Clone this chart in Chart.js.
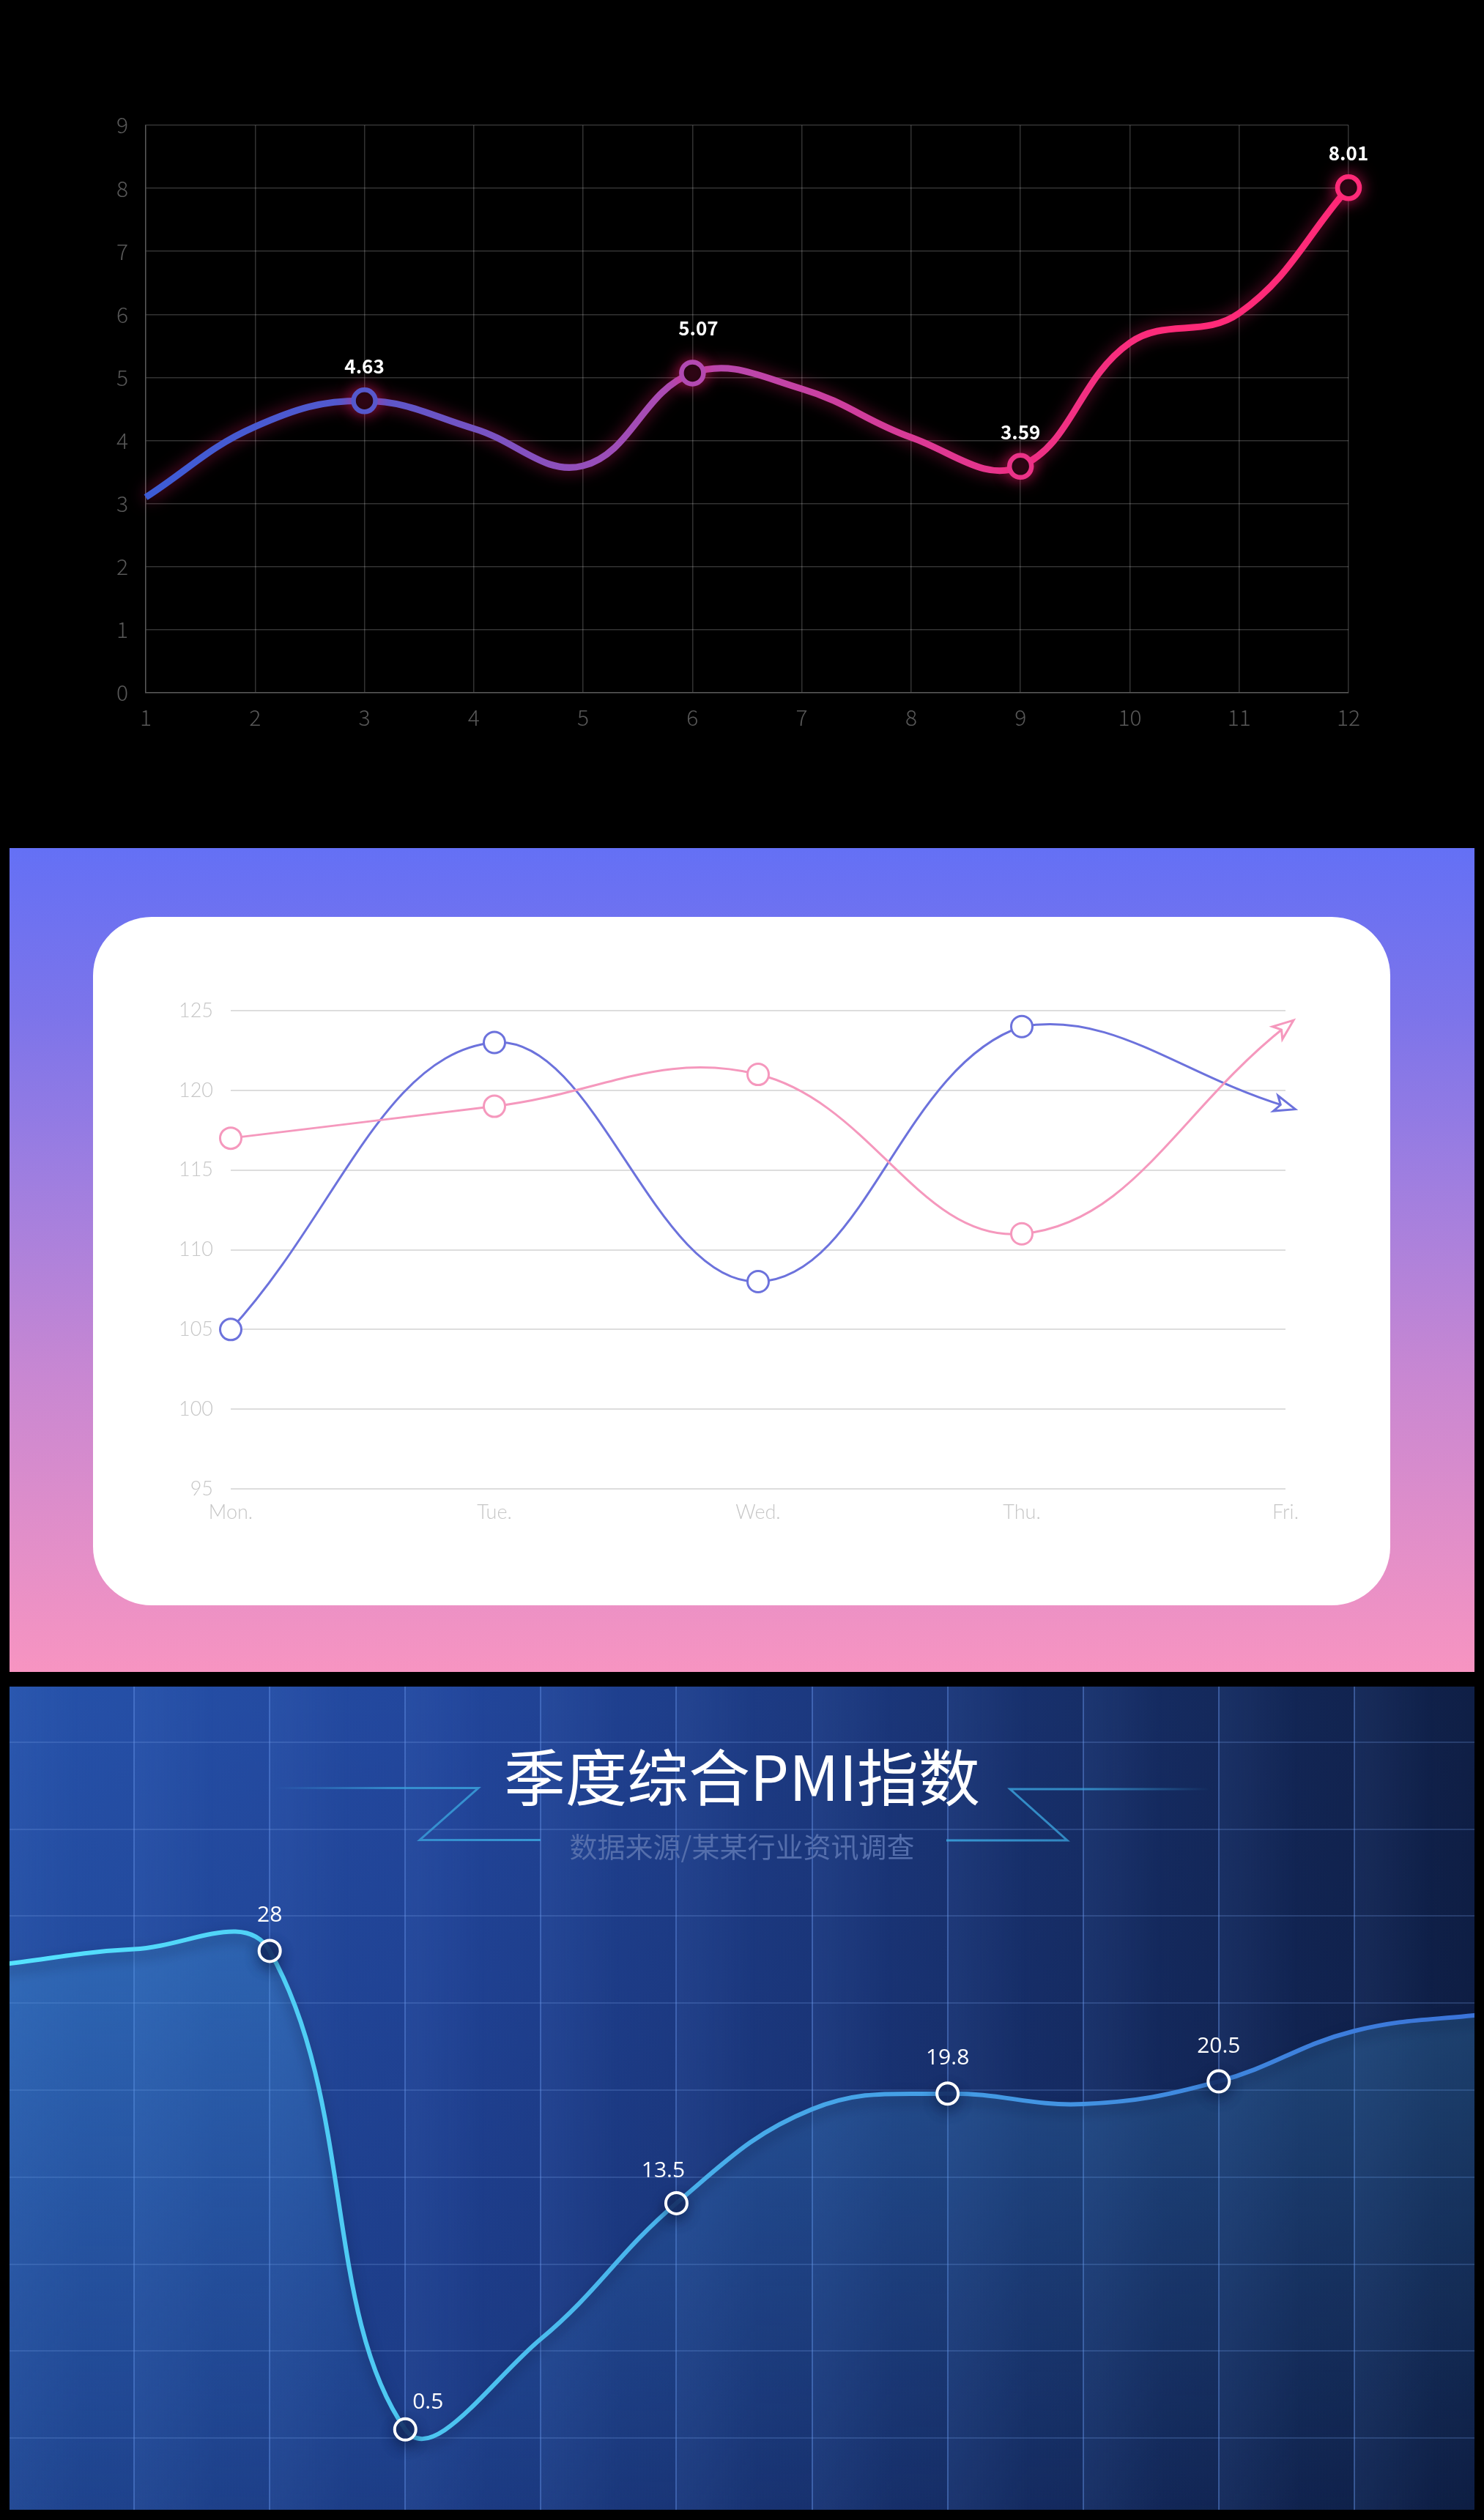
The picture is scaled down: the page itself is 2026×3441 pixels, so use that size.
<!DOCTYPE html>
<html>
<head>
<meta charset="utf-8">
<script src="https://cdn.jsdelivr.net/npm/chart.js@4.4.1/dist/chart.umd.min.js"></script>
<style>
html,body{margin:0;padding:0;background:#000;}
body{width:2026px;height:3441px;position:relative;overflow:hidden;font-family:"Noto Sans CJK SC","Noto Sans",sans-serif;}
.abs{position:absolute;}
#topWrap{left:0;top:0;width:2026px;height:1140px;}
#midPanel{left:13px;top:1158px;width:2000px;height:1125px;
  background:linear-gradient(180deg,#6470f5 0%,#7c74ea 20%,#9b7de1 38%,#c887d2 64%,#f794c1 100%);}
#midCard{left:127px;top:1252px;width:1771px;height:940px;background:#fff;border-radius:80px;}
#midWrap{left:127px;top:1252px;width:1771px;height:940px;}
#botPanel{left:13px;top:2303px;width:2000px;height:1124px;overflow:hidden;
  background:linear-gradient(180deg,rgba(0,0,0,0) 0%,rgba(4,12,40,0.22) 100%),
             linear-gradient(90deg,#2652aa 0%,#22469c 30%,#1b377c 58%,#14295c 82%,#0f1f46 100%);}
#botWrap{position:absolute;left:-15px;top:-43px;width:2036px;height:1188px;}
#ribbon{position:absolute;left:0;top:0;width:2000px;height:400px;pointer-events:none;}
#pmiTitle{position:absolute;left:1000px;top:119px;transform:translate(-50%,-50%);white-space:nowrap;
  color:#fff;font-size:84px;font-family:"Noto Sans CJK SC",sans-serif;font-weight:400;letter-spacing:0px;}
#pmiSub{position:absolute;left:1000px;top:216px;transform:translate(-50%,-50%);white-space:nowrap;
  color:rgb(84,110,172);font-size:38px;font-family:"Noto Sans CJK SC",sans-serif;}
</style>
</head>
<body>
<div id="topWrap" class="abs"><canvas id="topChart"></canvas></div>

<div id="midPanel" class="abs"></div>
<div id="midCard" class="abs"></div>
<div id="midWrap" class="abs"><canvas id="midChart"></canvas></div>

<div id="botPanel" class="abs">
  <div id="botWrap"><canvas id="botChart"></canvas></div>
  <svg id="ribbon" viewBox="0 0 2000 400">
    <defs>
      <linearGradient id="rl" x1="360" y1="0" x2="725" y2="0" gradientUnits="userSpaceOnUse">
        <stop offset="0" stop-color="#3aa2dc" stop-opacity="0"/>
        <stop offset="0.45" stop-color="#3aa2dc" stop-opacity="0.75"/>
        <stop offset="1" stop-color="#3aa2dc" stop-opacity="0.9"/>
      </linearGradient>
      <linearGradient id="rr" x1="1640" y1="0" x2="1279" y2="0" gradientUnits="userSpaceOnUse">
        <stop offset="0" stop-color="#3aa2dc" stop-opacity="0"/>
        <stop offset="0.45" stop-color="#3aa2dc" stop-opacity="0.75"/>
        <stop offset="1" stop-color="#3aa2dc" stop-opacity="0.9"/>
      </linearGradient>
    </defs>
    <polyline points="360,138.5 640,138.5 560,209.5 725,209.5" fill="none" stroke="url(#rl)" stroke-width="3"/>
    <polyline points="1640,140 1366,140 1444,210 1279,210" fill="none" stroke="url(#rr)" stroke-width="3"/>
  </svg>
  <div id="pmiTitle">季度综合PMI指数</div>
  <div id="pmiSub">数据来源/某某行业资讯调查</div>
</div>

<script>
// ---------- DATA ----------
// Chart 1 (dark glow line)
const monthLabels = ['1','2','3','4','5','6','7','8','9','10','11','12'];
const trendValues = [3.10, 4.22, 4.63, 4.19, 3.60, 5.07, 4.82, 4.05, 3.59, 5.55, 6.02, 8.01];
const trendMarked = [2, 5, 8, 11];

// Chart 2 (two curves in white card)
const weekDays = ['Mon.', 'Tue.', 'Wed.', 'Thu.', 'Fri.'];
const blueSeries = [105, 123, 108, 124, 119];
const pinkSeries = [117, 119, 121, 111, 124];
const weekTicks = [95, 100, 105, 110, 115, 120, 125];

// Chart 3 (PMI)
const pmiCategories = ['1','2','3','4','5','6','7','8','9','10','11','12'];
const pmiValues = [27.2, 28.1, 28, 0.5, 5.7, 13.5, 18.9, 19.8, 19.2, 20.5, 23.4, 24.4];
const pmiMarked = [2, 3, 5, 7, 9];

Chart.defaults.devicePixelRatio = 1;
Chart.defaults.animation = false;

// ---------- helpers ----------
function makeLabelPlugin(id, cfg) {
  return {
    id: id,
    afterDatasetsDraw(chart) {
      const meta = chart.getDatasetMeta(0);
      const data = chart.data.datasets[0].data;
      const c = chart.ctx;
      c.save();
      c.font = cfg.font;
      c.fillStyle = cfg.color;
      c.textAlign = 'center';
      c.textBaseline = 'middle';
      cfg.indices.forEach(i => {
        const pt = meta.data[i];
        const off = (cfg.offsets && cfg.offsets[i]) || [0, cfg.dy];
        c.fillText(String(data[i]), pt.x + off[0], pt.y + off[1]);
      });
      c.restore();
    }
  };
}

function fixedAxis(size, horizontal) {
  return function (scale) {
    if (horizontal) scale.height = size; else scale.width = size;
  };
}

// ---------- Chart 1 ----------
function trendGradient(chart) {
  const area = chart.chartArea;
  if (!area) return '#ff2a78';
  const g = chart.ctx.createLinearGradient(area.left, 0, area.right, 0);
  g.addColorStop(0, '#3c5cd6');
  g.addColorStop(0.18, '#5558cc');
  g.addColorStop(0.45, '#b24ab2');
  g.addColorStop(0.72, '#ea3389');
  g.addColorStop(0.86, '#ff2a78');
  g.addColorStop(1, '#ff2a78');
  return g;
}

const glowPlugin = {
  id: 'glow',
  beforeDatasetDraw(chart) {
    const c = chart.ctx;
    c.save();
    c.shadowColor = 'rgba(255,30,110,0.55)';
    c.shadowBlur = 22;
  },
  afterDatasetDraw(chart) {
    chart.ctx.restore();
  }
};

new Chart(document.getElementById('topChart'), {
  type: 'line',
  data: {
    labels: monthLabels,
    datasets: [{
      data: trendValues,
      borderColor: ctx => trendGradient(ctx.chart),
      borderWidth: 9,
      tension: 0.4,
      fill: false,
      clip: false,
      pointRadius: ctx => trendMarked.includes(ctx.dataIndex) ? 15 : 0,
      pointHoverRadius: 15,
      pointBorderWidth: 6.5,
      pointBackgroundColor: '#000',
      pointBorderColor: ctx => trendGradient(ctx.chart)
    }]
  },
  options: {
    responsive: true,
    maintainAspectRatio: false,
    layout: { autoPadding: false, padding: { left: 139, right: 185, top: 171, bottom: 134 } },
    plugins: { legend: { display: false }, tooltip: { enabled: false } },
    scales: {
      x: {
        type: 'category',
        offset: false,
        afterFit: fixedAxis(60, true),
        grid: { color: 'rgba(255,255,255,0.2)', lineWidth: 1.5, drawTicks: false },
        border: { color: 'rgba(255,255,255,0.2)', width: 1.5 },
        ticks: { color: '#585858', padding: 16, font: { size: 30, family: '"Noto Sans CJK SC", "Noto Sans", sans-serif', weight: 300 } }
      },
      y: {
        min: 0, max: 9,
        afterFit: fixedAxis(60, false),
        grid: { color: 'rgba(255,255,255,0.2)', lineWidth: 1.5, drawTicks: false },
        border: { color: 'rgba(255,255,255,0.2)', width: 1.5 },
        ticks: { stepSize: 1, color: '#585858', padding: 24, font: { size: 30, family: '"Noto Sans CJK SC", "Noto Sans", sans-serif', weight: 300 } }
      }
    }
  },
  plugins: [glowPlugin, makeLabelPlugin('trendLabels', {
    indices: trendMarked, dy: -47, color: '#ffffff',
    offsets: { 5: [8, -61] },
    font: 'bold 26px "Noto Sans CJK SC", "Noto Sans", sans-serif'
  })]
});

// ---------- Chart 2 ----------
const arrowPlugin = {
  id: 'endArrows',
  afterDatasetsDraw(chart) {
    const c = chart.ctx;
    chart.data.datasets.forEach((ds, di) => {
      const meta = chart.getDatasetMeta(di);
      const pts = meta.data;
      const p = pts[pts.length - 1];
      const q = pts[pts.length - 2];
      let dx = p.x - (p.cp1x !== undefined ? p.cp1x : q.x);
      let dy = p.y - (p.cp1y !== undefined ? p.cp1y : q.y);
      if (Math.abs(dx) + Math.abs(dy) < 0.01) { dx = p.x - q.x; dy = p.y - q.y; }
      const ang = Math.atan2(dy, dx);
      const L = 28, W = 11;
      c.save();
      c.translate(p.x, p.y);
      c.rotate(ang);
      c.beginPath();
      c.moveTo(L / 2, 0);
      c.lineTo(-L / 2, -W);
      c.lineTo(-L / 4, 0);
      c.lineTo(-L / 2, W);
      c.closePath();
      c.fillStyle = '#ffffff';
      c.fill();
      c.lineWidth = 3;
      c.lineJoin = 'miter';
      c.strokeStyle = ds.borderColor;
      c.stroke();
      c.restore();
    });
  }
};

function weekDataset(values, color) {
  return {
    data: values,
    borderColor: color,
    borderWidth: 3,
    tension: 0.4,
    fill: false,
    clip: false,
    pointRadius: ctx => ctx.dataIndex === values.length - 1 ? 0 : 14.5,
    pointHoverRadius: 14.5,
    pointBorderWidth: 3,
    pointBackgroundColor: '#ffffff',
    pointBorderColor: color
  };
}

new Chart(document.getElementById('midChart'), {
  type: 'line',
  data: {
    labels: weekDays,
    datasets: [weekDataset(pinkSeries, '#f598bd'), weekDataset(blueSeries, '#6c72dc')]
  },
  options: {
    responsive: true,
    maintainAspectRatio: false,
    layout: { autoPadding: false, padding: { left: 48, right: 143, top: 128, bottom: 99 } },
    plugins: { legend: { display: false }, tooltip: { enabled: false } },
    scales: {
      x: {
        type: 'category',
        offset: false,
        afterFit: fixedAxis(60, true),
        grid: { display: false, drawTicks: false },
        border: { display: false },
        ticks: { color: '#c6c6c6', padding: 16, font: { size: 27, family: 'Lato, "Open Sans", sans-serif', weight: 300 } }
      },
      y: {
        min: 95, max: 125,
        afterFit: fixedAxis(140, false),
        afterBuildTicks: s => { s.ticks = weekTicks.map(v => ({ value: v })); },
        grid: { color: '#dddddd', lineWidth: 2, drawTicks: false },
        border: { display: false },
        ticks: { color: '#c6c6c6', padding: 24, font: { size: 27, family: 'Lato, "Open Sans", sans-serif', weight: 300 } }
      }
    }
  },
  plugins: [arrowPlugin]
});

// ---------- Chart 3 ----------
const columnShade = {
  id: 'columnShade',
  beforeDatasetsDraw(chart) {
    const xs = chart.scales.x;
    const area = chart.chartArea;
    const c = chart.ctx;
    c.save();
    for (let i = 0; i < pmiCategories.length - 1; i++) {
      const x0 = xs.getPixelForValue(i);
      const x1 = xs.getPixelForValue(i + 1);
      const g = c.createLinearGradient(x0, 0, x1, 0);
      g.addColorStop(0, 'rgba(120,170,255,0.07)');
      g.addColorStop(0.6, 'rgba(120,170,255,0.0)');
      g.addColorStop(1, 'rgba(120,170,255,0.0)');
      c.fillStyle = g;
      c.fillRect(x0, area.top, x1 - x0, area.bottom - area.top);
    }
    c.restore();
  }
};

const pmiShadow = {
  id: 'pmiShadow',
  beforeDatasetDraw(chart) {
    const c = chart.ctx;
    c.save();
    c.shadowColor = 'rgba(5,15,50,0.45)';
    c.shadowBlur = 18;
    c.shadowOffsetY = 8;
  },
  afterDatasetDraw(chart) { chart.ctx.restore(); }
};

function pmiLineGradient(chart) {
  const area = chart.chartArea;
  if (!area) return '#4fd4f5';
  const g = chart.ctx.createLinearGradient(area.left, 0, area.right, 0);
  g.addColorStop(0, '#55e4ff');
  g.addColorStop(0.3, '#4cc4f0');
  g.addColorStop(0.55, '#46a6e8');
  g.addColorStop(1, '#3a72d8');
  return g;
}
function pmiFillGradient(chart) {
  const area = chart.chartArea;
  if (!area) return 'rgba(70,170,230,0.2)';
  const g = chart.ctx.createLinearGradient(0, area.top, 0, area.bottom);
  g.addColorStop(0, 'rgba(80,175,235,0.45)');
  g.addColorStop(0.35, 'rgba(70,160,225,0.30)');
  g.addColorStop(1, 'rgba(60,140,210,0.02)');
  return g;
}

new Chart(document.getElementById('botChart'), {
  type: 'line',
  data: {
    labels: pmiCategories,
    datasets: [{
      data: pmiValues,
      borderColor: ctx => pmiLineGradient(ctx.chart),
      backgroundColor: ctx => pmiFillGradient(ctx.chart),
      fill: 'start',
      borderWidth: 6,
      tension: 0.4,
      clip: false,
      pointRadius: ctx => pmiMarked.includes(ctx.dataIndex) ? 14.5 : 0,
      pointHoverRadius: 14.5,
      pointBorderWidth: 4,
      pointBorderColor: '#ffffff',
      pointBackgroundColor: 'rgba(24,48,105,0.85)'
    }]
  },
  options: {
    responsive: true,
    maintainAspectRatio: false,
    layout: { autoPadding: false, padding: 0 },
    plugins: { legend: { display: false }, tooltip: { enabled: false } },
    scales: {
      x: {
        type: 'category',
        offset: false,
        grid: { color: 'rgba(105,150,235,0.42)', lineWidth: 2, drawTicks: false },
        border: { display: false },
        ticks: { display: false }
      },
      y: {
        min: -5, max: 45,
        grid: { color: 'rgba(110,150,225,0.25)', lineWidth: 2, drawTicks: false },
        border: { display: false },
        ticks: { display: false, stepSize: 5 }
      }
    }
  },
  plugins: [columnShade, pmiShadow, makeLabelPlugin('pmiLabels', {
    indices: pmiMarked, dy: -48, color: '#ffffff',
    offsets: { 3: [31, -37], 5: [-18, -44] },
    font: '30px "Open Sans", "Noto Sans", sans-serif'
  })]
});
</script>
</body>
</html>
